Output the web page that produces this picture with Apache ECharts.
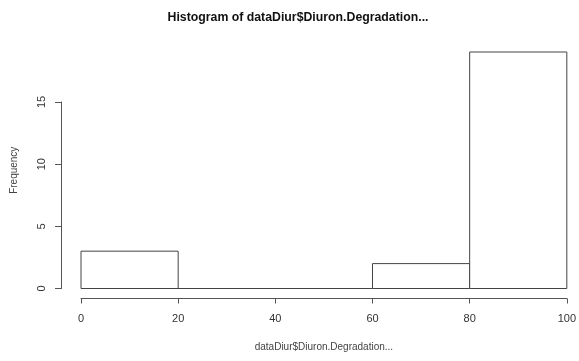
<!DOCTYPE html>
<html><head><meta charset="utf-8">
<script src="https://cdn.jsdelivr.net/npm/echarts@6/dist/echarts.min.js"></script>
<style>html,body{margin:0;padding:0;background:#fff}#c{width:579px;height:361px}</style>
</head><body><div id="c"></div>
<script>
const binStarts = [0, 20, 40, 60, 80];
const binEnds = [20, 40, 60, 80, 100];
const counts = [3, 0, 0, 2, 19];
const xTicks = [0, 20, 40, 60, 80, 100];
const yTicks = [0, 5, 10, 15];

const chart = echarts.init(document.getElementById('c'));
const font = 'Liberation Sans, Arial, sans-serif';
const data = counts.map((c, i) => [binStarts[i], binEnds[i], c]);
chart.setOption({
  animation: false,
  title: {
    text: 'Histogram of dataDiur$Diuron.Degradation...',
    left: 293, top: 7, textAlign: 'center',
    textStyle: {fontFamily: font, fontSize: 12.3, fontWeight: 'bold', color: '#111'}
  },
  grid: [
    {left: 81, right: 10.5, top: 52, bottom: 72.5},
    {left: 81, right: 10.5, top: 102, bottom: 72.5}
  ],
  xAxis: [{
    gridIndex: 0, type: 'value', min: 0, max: 100, interval: 20, offset: 10,
    splitLine: {show: false},
    axisLine: {show: true, onZero: false, lineStyle: {color: '#555', width: 1}},
    axisTick: {show: true, length: 5, lineStyle: {color: '#555'}},
    axisLabel: {fontFamily: font, fontSize: 11, color: '#333', margin: 15},
    name: 'dataDiur$Diuron.Degradation...', nameLocation: 'middle', nameGap: 44,
    nameTextStyle: {fontFamily: font, fontSize: 10, color: '#444'}
  }, {
    gridIndex: 1, type: 'value', min: 0, max: 100, show: false
  }],
  yAxis: [{
    gridIndex: 0, type: 'value', min: 0, max: 19, offset: 20,
    splitLine: {show: false},
    axisLine: {show: false, onZero: false},
    axisTick: {show: false},
    axisLabel: {show: false},
    name: 'Frequency', nameLocation: 'middle', nameGap: 42, nameRotate: 90,
    nameTextStyle: {fontFamily: font, fontSize: 10, color: '#444'}
  }, {
    gridIndex: 1, type: 'value', min: 0, max: 15, interval: 5, offset: 20,
    splitLine: {show: false},
    axisLine: {show: true, onZero: false, lineStyle: {color: '#555', width: 1}},
    axisTick: {show: true, length: 6, lineStyle: {color: '#555'}},
    axisLabel: {fontFamily: font, fontSize: 11, color: '#333', rotate: 90, margin: 14}
  }],
  series: [{
    type: 'custom', xAxisIndex: 0, yAxisIndex: 0,
    data: data,
    renderItem: function (params, api) {
      const p0 = api.coord([api.value(0), api.value(2)]);
      const p1 = api.coord([api.value(1), 0]);
      return {
        type: 'rect',
        shape: {x: p0[0], y: p0[1], width: p1[0] - p0[0], height: p1[1] - p0[1]},
        style: {fill: '#fff', stroke: '#444', lineWidth: 1}
      };
    },
    encode: {x: [0, 1], y: 2}
  }]
});
</script></body></html>
